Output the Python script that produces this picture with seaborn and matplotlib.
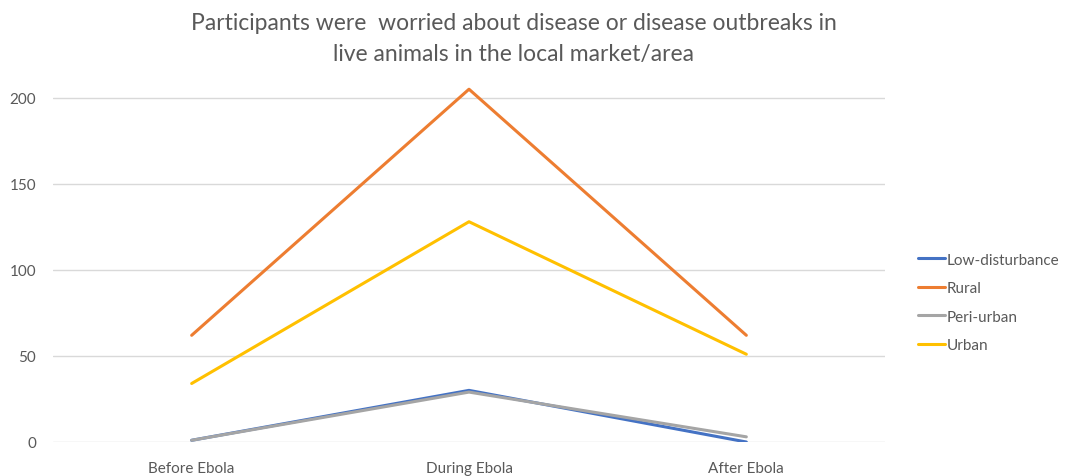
import matplotlib
matplotlib.use("Agg")
import matplotlib.pyplot as plt
import seaborn as sns
import pandas as pd

periods = ["Before Ebola", "During Ebola", "After Ebola"]
series_names = ["Low-disturbance", "Rural", "Peri-urban", "Urban"]
low_disturbance = [1, 30, 0]
rural = [62, 205, 62]
peri_urban = [1, 29, 3]
urban = [34, 128, 51]
y_ticks = [0, 50, 100, 150, 200]

colors = ["#4472C4", "#ED7D31", "#A5A5A5", "#FFC000"]
text_color = "#595959"

rows = []
for name, vals in zip(series_names, [low_disturbance, rural, peri_urban, urban]):
    for i, (p, v) in enumerate(zip(periods, vals)):
        rows.append({"period": p, "pos": i, "count": v, "area": name})
df = pd.DataFrame(rows)

sns.set_theme(style="white")
plt.rcParams["font.family"] = ["Lato", "DejaVu Sans"]

fig = plt.figure(figsize=(10.7, 4.77), dpi=100)
ax = fig.add_axes([53 / 1070, 1 - 443 / 477, 832 / 1070, 370 / 477])

sns.lineplot(data=df, x="pos", y="count", hue="area", hue_order=series_names,
             palette=colors, linewidth=2.2, ax=ax, legend=False, sort=False)

ax.set_xlim(-0.5, 2.5)
ax.set_ylim(0, 215)
ax.set_xticks(range(len(periods)))
ax.set_xticklabels(periods)
ax.set_yticks(y_ticks)
ax.set_xlabel("")
ax.set_ylabel("")
for s in ax.spines.values():
    s.set_visible(False)
ax.grid(axis="y", color="#D9D9D9", linewidth=1)
ax.set_axisbelow(True)
ax.tick_params(axis="both", length=0, colors=text_color, labelsize=11)
ax.tick_params(axis="x", pad=14)
ax.tick_params(axis="y", pad=12)

fig.text(0.48, 1 - 23 / 477, "Participants were  worried about disease or disease outbreaks in",
         ha="center", va="center", fontsize=16.5, color=text_color)
fig.text(0.48, 1 - 54 / 477, "live animals in the local market/area",
         ha="center", va="center", fontsize=16.5, color=text_color)

handles = [plt.Line2D([], [], color=c, linewidth=2.2) for c in colors]
fig.legend(handles, series_names, loc="upper left",
           bbox_to_anchor=(904 / 1070, 1 - 240 / 477), frameon=False,
           fontsize=11, labelcolor=text_color, handlelength=1.8,
           handletextpad=0.1, labelspacing=0.95)

fig.savefig("out.png", dpi=100)
